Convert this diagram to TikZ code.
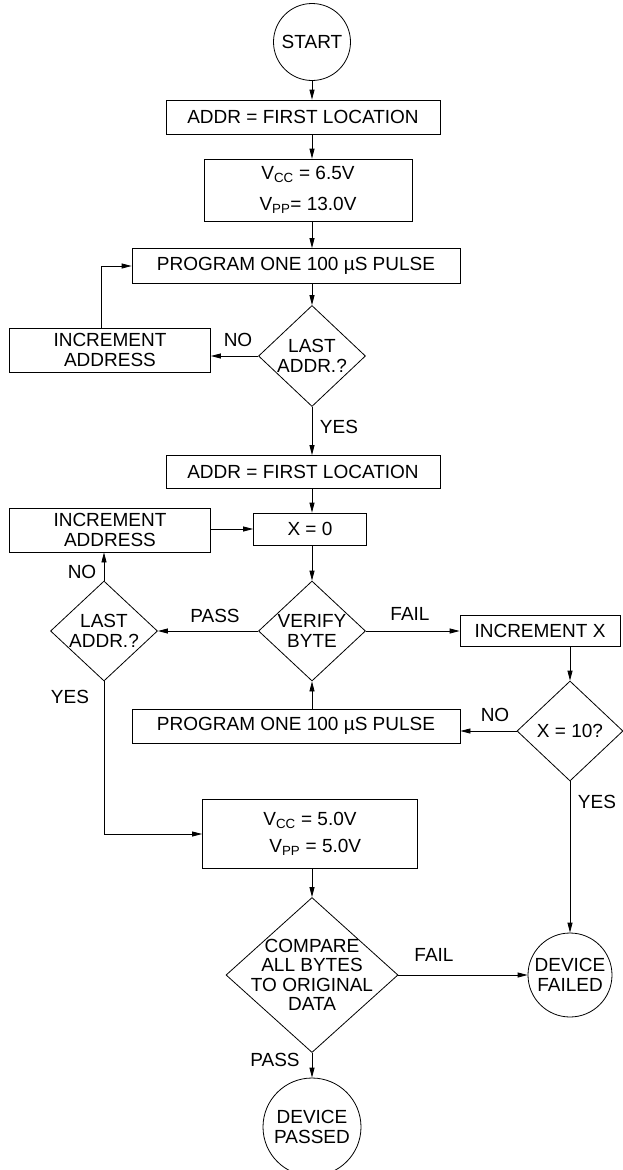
\documentclass[tikz,border=0pt]{standalone}
\usepackage{fontspec}
\setmainfont{Liberation Sans}
\usetikzlibrary{shapes.geometric,arrows.meta}

\begin{document}
\begin{tikzpicture}[x=1pt, y=-1pt, line width=0.8pt,
        font=\fontsize{19}{19.5}\selectfont,
        box/.style={rectangle, draw, inner sep=0pt, align=center},
        decision/.style={diamond, draw, inner sep=-3pt, align=center},
        term/.style={circle, draw, inner sep=0pt, align=center},
        lbl/.style={inner sep=0pt},
        arr/.style={-{Triangle[length=10pt,width=5pt]}}]
        \useasboundingbox (0,0) rectangle (622,1170);

        % Nodes
        \node(start) [term, minimum size=77pt] at (312,42) {START};
        \node(addrA) [box, minimum width=274pt, minimum height=34pt] at (303,117) {ADDR = FIRST LOCATION};
        \node(vccA) [box, minimum width=208pt, minimum height=62pt] at (308,190) {V\textsubscript{CC} = 6.5V\\[11.5pt]V\textsubscript{PP}= 13.0V};
        \node(progA) [box, minimum width=328pt, minimum height=35pt] at (296,266) {PROGRAM ONE 100 µS PULSE};
        \node(lastA) [decision, minimum width=107pt, minimum height=101pt] at (312,356) {LAST\\ADDR.?};
        \node(incA) [box, minimum width=201pt, minimum height=44pt] at (110,350) {INCREMENT\\ADDRESS};
        \node(addrB) [box, minimum width=274pt, minimum height=33pt] at (303,472) {ADDR = FIRST LOCATION};
        \node(xzero) [box, minimum width=113pt, minimum height=32pt] at (310,529) {X = 0};
        \node(incB) [box, minimum width=201pt, minimum height=44pt] at (110,530) {INCREMENT\\ADDRESS};
        \node(verify) [decision, minimum width=107pt, minimum height=100pt] at (312,631) {VERIFY\\BYTE};
        \node(lastB) [decision, minimum width=107pt, minimum height=100pt] at (104,631) {LAST\\ADDR.?};
        \node(incX) [box, minimum width=160pt, minimum height=31pt] at (540,631) {INCREMENT X};
        \node(xten) [decision, minimum width=106pt, minimum height=100pt] at (570,731) {X = 10?};
        \node(progB) [box, minimum width=328pt, minimum height=34pt] at (296,726) {PROGRAM ONE 100 µS PULSE};
        \node(vccB) [box, minimum width=215pt, minimum height=69pt] at (310,834) {V\textsubscript{CC} = 5.0V\\[7.5pt]\ \ V\textsubscript{PP} = 5.0V};
        \node(compare) [decision, inner sep=-10pt, minimum width=172pt, minimum height=155pt] at (312,975) {COMPARE\\ALL BYTES\\TO ORIGINAL\\DATA};
        \node(failed) [term, minimum size=84pt] at (570,975) {DEVICE\\FAILED};
        \node(passed) [term, minimum size=98pt] at (312,1127) {DEVICE\\PASSED};

        % Labels
        \node(noA) [lbl] at (238,340) {NO};
        \node(yesA) [lbl] at (339,427) {YES};
        \node(noB) [lbl] at (82,572) {NO};
        \node(passA) [lbl] at (215,616) {PASS};
        \node(failA) [lbl] at (410,614) {FAIL};
        \node(noC) [lbl] at (495,715) {NO};
        \node(yesB) [lbl] at (70,697) {YES};
        \node(yesC) [lbl] at (597,802) {YES};
        \node(failB) [lbl] at (434,955) {FAIL};
        \node(passB) [lbl] at (275,1060) {PASS};

        % Edges
        \draw[arr] (start) -- (start |- addrA.north);
        \draw[arr] (start |- addrA.south) -- (start |- vccA.north);
        \draw[arr] (start |- vccA.south) -- (start |- progA.north);
        \draw[arr] (start |- progA.south) -- (lastA);
        \draw[arr] (lastA.west) -- (lastA.west -| incA.east);
        \draw[arr] ([xshift=-9pt]incA.north) |- (progA.west);
        \draw[arr] (lastA) -- (start |- addrB.north);
        \draw[arr] (start |- addrB.south) -- (start |- xzero.north);
        \draw[arr] (xzero.west -| incB.east) -- (xzero.west);
        \draw[arr] (start |- xzero.south) -- (verify);
        \draw[arr] (verify) -- (lastB);
        \draw[arr] (verify) -- (verify -| incX.west);
        \draw[arr] (lastB) -- (lastB |- incB.south);
        \draw[arr] (incX.south -| xten) -- (xten);
        \draw[arr] (xten.west) -- (xten.west -| progB.east);
        \draw[arr] (verify |- progB.north) -- (verify);
        \draw[arr] (lastB) |- (vccB.west);
        \draw[arr] (xten) -- (failed);
        \draw[arr] (start |- vccB.south) -- (compare);
        \draw[arr] (compare) -- (failed);
        \draw[arr] (compare) -- (passed);
    \end{tikzpicture}
\end{document}
